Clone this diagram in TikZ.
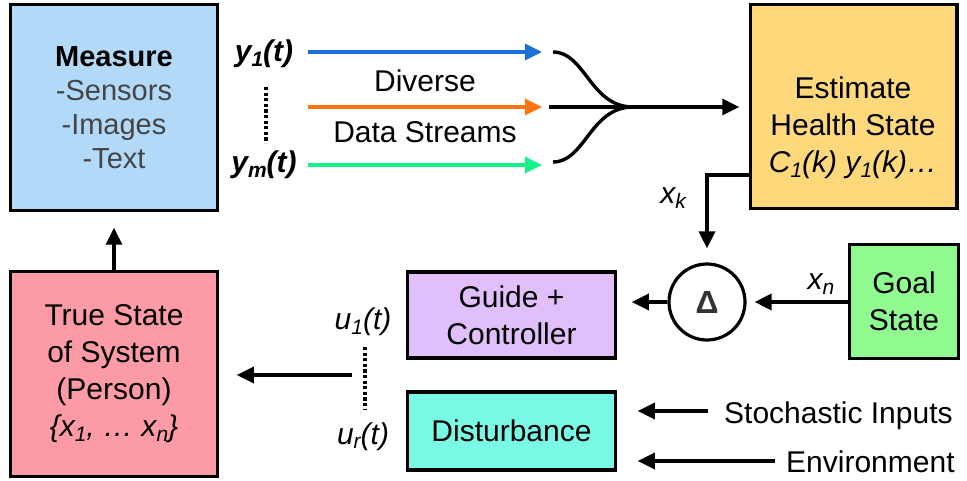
\documentclass[tikz,border=0pt]{standalone}
\usepackage{fontspec}
\setmainfont{Liberation Sans}
\usetikzlibrary{arrows.meta}

\definecolor{measurefill}{HTML}{B3D9F8}
\definecolor{estfill}{HTML}{FDD97B}
\definecolor{truefill}{HTML}{FC9BA6}
\definecolor{guidefill}{HTML}{E0BFFB}
\definecolor{distfill}{HTML}{7AF8E6}
\definecolor{goalfill}{HTML}{90FA90}
\definecolor{streamblue}{HTML}{1F6FD8}
\definecolor{streamorange}{HTML}{FF7511}
\definecolor{streamgreen}{HTML}{14F28A}
\definecolor{listgray}{HTML}{454545}
\definecolor{deltagray}{HTML}{333333}

\newcommand\bodysize{\fontsize{30}{37}\selectfont}
\newcommand\measuresize{\fontsize{29}{34}\selectfont}
\newcommand\lowsub[1]{\raisebox{-0.3ex}{\fontsize{21}{21}\selectfont #1}}

\begin{document}
\begin{tikzpicture}[x=1pt,y=-1pt,
  box/.style={draw, line width=3.5pt, inner sep=0pt, align=center, font=\bodysize},
  link/.style={line width=3.4pt, -{Triangle[length=17pt,width=16pt]}},
  fork/.style={line width=3.4pt},
  dots/.style={line width=3.4pt, dash pattern=on 3.2pt off 2.4pt},
  lbl/.style={font=\bodysize, inner sep=0pt, anchor=base}]

\useasboundingbox (0,0) rectangle (967,481);

% blocks
\node[box, fill=measurefill, minimum width=207pt, minimum height=206pt,
      font=\measuresize, text=listgray] (meas) at (114,107.5)
  {\textcolor{black}{\textbf{Measure}}\\-Sensors\\-Images\\-Text};
\node[box, fill=estfill, minimum width=206.5pt, minimum height=204pt] (est) at (853.75,106.5) {};
\node[font=\bodysize, align=center, inner sep=0pt] (esttext) at (853,128)
  {Estimate\\Health State\\\textit{C\lowsub{1}(k) y\lowsub{1}(k)…}};
\node[box, fill=truefill, minimum width=207pt, minimum height=205pt] (true) at (114,374)
  {True State\\of System\\(Person)\\\textit{\{x\lowsub{1}, … x\lowsub{n}\}}};
\node[box, fill=guidefill, minimum width=208pt, minimum height=86pt] (guide) at (511.5,315)
  {Guide +\\Controller};
\node[box, fill=distfill, minimum width=208pt, minimum height=78pt] (dist) at (511.5,431)
  {Disturbance};
\node[box, fill=goalfill, minimum width=109pt, minimum height=114pt] (goal) at (904,301.5)
  {Goal\\State};
\node[draw, circle, line width=3.2pt, minimum size=76pt, inner sep=0pt,
      font=\fontsize{32}{32}\selectfont\bfseries, text=deltagray] (delta) at (707,302) {Δ};

% measurement streams
\coordinate (blueS) at (308,52);   \coordinate (blueE) at (542,52);
\coordinate (orangeS) at (308,107); \coordinate (orangeE) at (542,107);
\coordinate (greenS) at (308,165);  \coordinate (greenE) at (542,165);
\draw[link, streamblue] (blueS) -- (blueE);
\draw[link, streamorange] (orangeS) -- (orangeE);
\draw[link, streamgreen] (greenS) -- (greenE);

\node[lbl, font=\bodysize\bfseries\itshape] (y1) at (264,62) {y\lowsub{1}(t)};
\node[lbl, font=\bodysize\bfseries\itshape] (ym) at (264,173) {y\lowsub{m}(t)};
\coordinate (ydotA) at (266,87); \coordinate (ydotB) at (266,143);
\draw[dots] (ydotA) -- (ydotB);
\node[lbl] (diverse) at (425,92) {Diverse};
\node[lbl] (streams) at (425,143) {Data Streams};

% merging fork
\coordinate (forkTop) at (553,52);
\coordinate (forkBot) at (553,162);
\coordinate (forkMid) at (632,107);
\coordinate (midS) at (549,107);
\draw[fork] (forkTop) .. controls (585,52) and (590,106) .. (forkMid);
\draw[fork] (forkBot) .. controls (585,162) and (590,108) .. (forkMid);
\draw[link] (midS) -- (est.west |- midS) [shorten >=9.5pt];

% estimate to comparator
\coordinate (xkout) at (750.5,175);
\draw[link, shorten >=14pt] (xkout) -| (delta.north);
\node[lbl, font=\bodysize\itshape] (xk) at (673,204) {x\lowsub{k}};

% goal to comparator to controller
\draw[link, shorten >=8pt] (goal.west |- delta) -- (delta.east);
\node[lbl, font=\bodysize\itshape] (xn) at (821,290) {x\lowsub{n}};
\draw[link, shorten >=14.5pt] (delta.west) -- (guide.east |- delta);

% external inputs to disturbance
\node[font=\bodysize, inner sep=0pt, anchor=base west] (stoch) at (724,423) {Stochastic Inputs};
\node[font=\bodysize, inner sep=0pt, anchor=base west] (env) at (786,472) {Environment};
\coordinate (stochS) at (708,411);
\coordinate (envS) at (775,461);
\draw[link, shorten >=20.5pt] (stochS) -- (dist.east |- stochS);
\draw[link, shorten >=20.5pt] (envS) -- (dist.east |- envS);

% control inputs to the system
\node[lbl, font=\bodysize\itshape] (u1) at (363,330) {u\lowsub{1}(t)};
\node[lbl, font=\bodysize\itshape] (ur) at (363,444) {u\lowsub{r}(t)};
\coordinate (udotA) at (365,347); \coordinate (udotB) at (365,410);
\draw[dots] (udotA) -- (udotB);
\coordinate (ujoin) at (352,375);
\draw[link, shorten >=17.5pt] (ujoin) -- (true.east |- ujoin);

% system to measurement
\draw[link, shorten >=15.5pt] (true.north) -- (meas.south);

\end{tikzpicture}
\end{document}
